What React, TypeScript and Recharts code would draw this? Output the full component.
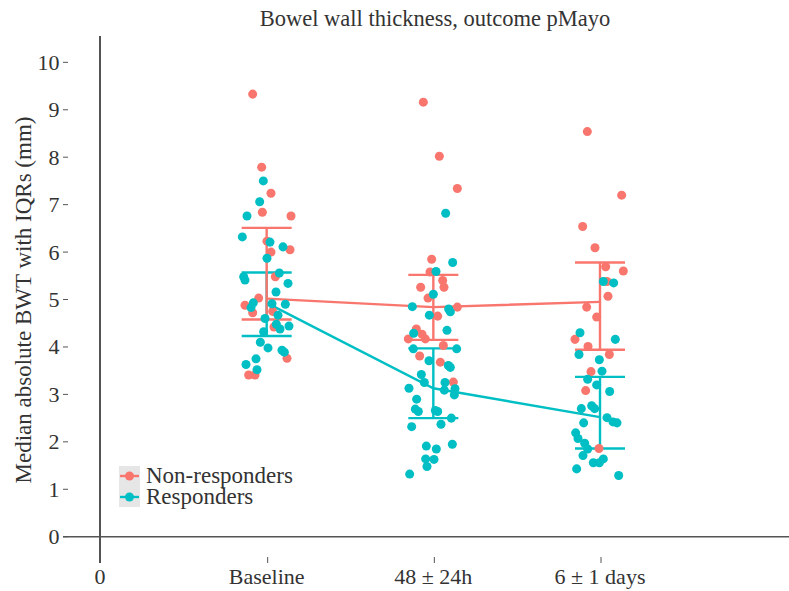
import React from "react";
import {
  ComposedChart,
  XAxis,
  YAxis,
  Line,
  Scatter,
  ErrorBar,
  ReferenceLine,
} from "recharts";

// Bowel wall thickness by outcome (pMayo) — medians with IQRs, jittered patients

const RED = "#F8766D";
const TEAL = "#00BFC4";
const FONT = '"Liberation Serif", "Times New Roman", serif';
const INK = "#333333";

const CATEGORIES = ["Baseline", "48 ± 24h", "6 ± 1 days"];
const CATEGORY_POS = [1, 2, 3];
const Y_TICKS = [0, 1, 2, 3, 4, 5, 6, 7, 8, 9, 10];

// medians and quartiles
const NR_MEDIAN = [5.02, 4.84, 4.95];
const NR_Q1 = [4.58, 4.15, 3.94];
const NR_Q3 = [6.51, 5.52, 5.78];
const R_MEDIAN = [4.93, 3.13, 2.52];
const R_Q1 = [4.23, 2.5, 1.86];
const R_Q3 = [5.57, 3.97, 3.37];

// individual patients [jittered x, BWT mm]
const NR_BASELINE: [number, number][] = [
  [0.916, 9.33], [0.97, 7.79], [1.026, 7.24], [0.974, 6.84], [1.146, 6.76],
  [1.002, 6.23], [1.026, 6.0], [1.14, 6.05], [1.052, 5.48], [0.952, 5.03],
  [0.87, 4.88], [0.916, 4.72], [1.036, 4.75], [1.044, 4.42], [1.122, 3.76],
  [0.892, 3.41], [0.93, 3.41],
];
const NR_48H: [number, number][] = [
  [1.94, 9.16], [2.036, 8.02], [2.144, 7.34], [1.99, 5.85], [1.98, 5.58],
  [2.056, 5.4], [2.064, 5.26], [1.924, 5.26], [1.968, 5.03], [2.144, 4.84],
  [2.026, 4.65], [1.898, 4.38], [1.932, 4.27], [1.952, 4.17], [1.85, 4.17],
  [2.06, 4.03], [1.918, 3.81], [2.042, 3.68], [2.12, 3.26],
];
const NR_6D: [number, number][] = [
  [2.924, 8.54], [3.13, 7.2], [2.896, 6.54], [2.97, 6.09], [3.034, 5.69],
  [3.14, 5.6], [3.042, 5.38], [3.048, 5.07], [2.92, 4.84], [2.98, 4.63],
  [2.85, 4.16], [2.928, 4.01], [3.056, 3.84], [2.946, 3.48], [2.914, 3.08],
  [2.994, 1.86],
];
const R_BASELINE: [number, number][] = [
  [0.98, 7.5], [0.958, 7.06], [0.882, 6.76], [0.854, 6.32], [1.02, 6.21],
  [1.098, 6.11], [1.002, 5.87], [0.862, 5.48], [0.87, 5.41], [1.076, 5.56],
  [1.128, 5.34], [1.056, 5.16], [0.92, 4.93], [0.906, 4.83], [1.032, 4.91],
  [1.112, 4.9], [1.068, 4.67], [0.99, 4.6], [1.058, 4.48], [1.08, 4.38],
  [1.134, 4.44], [0.982, 4.32], [0.962, 4.1], [1.008, 3.98], [1.092, 3.93],
  [1.106, 3.89], [0.936, 3.75], [0.876, 3.63], [0.942, 3.52],
];
const R_48H: [number, number][] = [
  [2.074, 6.82], [2.116, 5.78], [2.016, 5.59], [2.0, 5.11], [1.874, 4.85],
  [2.092, 4.8], [2.102, 4.74], [1.976, 4.67], [2.082, 4.35], [1.882, 4.29],
  [1.88, 3.96], [2.14, 3.96], [1.974, 3.71], [2.09, 3.61], [2.102, 3.57],
  [1.928, 3.42], [1.946, 3.25], [2.07, 3.25], [1.854, 3.13], [2.066, 3.09],
  [2.13, 3.12], [2.126, 2.99], [1.9, 2.9], [1.892, 2.69], [1.91, 2.64],
  [2.012, 2.66], [2.026, 2.64], [2.108, 2.5], [1.87, 2.32], [2.046, 2.37],
  [1.958, 1.91], [2.018, 1.85], [2.114, 1.95], [1.954, 1.64], [2.004, 1.63],
  [1.962, 1.48], [1.858, 1.32],
];
const R_6D: [number, number][] = [
  [3.02, 5.38], [3.082, 5.35], [2.88, 4.3], [3.092, 4.16], [2.874, 3.84],
  [2.996, 3.73], [3.012, 3.49], [2.926, 3.32], [2.98, 3.2], [3.058, 3.06],
  [2.888, 2.7], [2.95, 2.76], [2.968, 2.7], [2.902, 2.4], [3.042, 2.51],
  [3.078, 2.42], [3.102, 2.4], [2.854, 2.19], [2.868, 2.07], [2.908, 1.97],
  [2.926, 1.85], [2.898, 1.71], [2.96, 1.56], [2.996, 1.56], [3.02, 1.64],
  [2.86, 1.43], [3.112, 1.29],
];

const summary = (med: number[], q1: number[], q3: number[]) =>
  CATEGORY_POS.map((x, i) => ({ x, y: med[i], iqr: [med[i] - q1[i], q3[i] - med[i]] }));

const toPoints = (...groups: [number, number][][]) =>
  groups.flat().map(([x, y]) => ({ x, y }));

const nrSummary = summary(NR_MEDIAN, NR_Q1, NR_Q3);
const rSummary = summary(R_MEDIAN, R_Q1, R_Q3);
const nrPoints = toPoints(NR_BASELINE, NR_48H, NR_6D);
const rPoints = toPoints(R_BASELINE, R_48H, R_6D);

const XTick = ({ x, y, payload }: any) => {
  const v = payload.value;
  const label = v === 0 ? "0" : CATEGORIES[CATEGORY_POS.indexOf(v)];
  return (
    <g>
      {v !== 0 && <line x1={x + 1} x2={x + 1} y1={y - 6} y2={y} stroke="#555" strokeWidth={1} />}
      <text x={x} y={y + 21} textAnchor="middle" fill={INK} fontSize={22} fontFamily={FONT}>
        {label}
      </text>
    </g>
  );
};

const YTick = ({ y, payload }: any) => (
  <g>
    <text x={59.5} y={y + 7.5} textAnchor="end" fill={INK} fontSize={22} fontFamily={FONT}>
      {payload.value}
    </text>
    <line x1={63} x2={68} y1={y} y2={y} stroke="#555" strokeWidth={1} />
  </g>
);

export default function App() {
  return (
    <div style={{ position: "absolute", left: 0, top: 0, width: 789, height: 591, background: "#fff" }}>
      <ComposedChart width={789} height={591} margin={{ top: 36, right: 0, bottom: 0, left: 0 }}>
        <XAxis
          type="number"
          dataKey="x"
          domain={[-0.222, 4.134]}
          ticks={[0, 1, 2, 3]}
          allowDataOverflow
          height={28}
          axisLine={false}
          tickLine={false}
          tickSize={0}
          tickMargin={0}
          tick={<XTick />}
        />
        <YAxis
          type="number"
          dataKey="y"
          domain={[-0.554, 10.555]}
          ticks={Y_TICKS}
          allowDataOverflow
          width={63}
          axisLine={false}
          tickLine={false}
          tick={<YTick />}
        />
        <ReferenceLine x={0} stroke="#1a1a1a" strokeWidth={1.5} />
        <ReferenceLine y={0} stroke="#555" strokeWidth={1.5} />
        <Line
          data={rSummary}
          dataKey="y"
          type="linear"
          stroke={TEAL}
          strokeWidth={2.4}
          dot={false}
          isAnimationActive={false}
        >
          <ErrorBar dataKey="iqr" direction="y" width={25} stroke={TEAL} strokeWidth={2.4} isAnimationActive={false} />
        </Line>
        <Line
          data={nrSummary}
          dataKey="y"
          type="linear"
          stroke={RED}
          strokeWidth={2.4}
          dot={false}
          isAnimationActive={false}
        >
          <ErrorBar dataKey="iqr" direction="y" width={25} stroke={RED} strokeWidth={2.4} isAnimationActive={false} />
        </Line>
        <Scatter data={nrPoints} dataKey="y" fill={RED} isAnimationActive={false} />
        <Scatter data={rPoints} dataKey="y" fill={TEAL} isAnimationActive={false} />
      </ComposedChart>

      <svg
        width={789}
        height={591}
        style={{ position: "absolute", left: 0, top: 0, pointerEvents: "none" }}
        fontFamily={FONT}
      >
        <text x={435} y={26} textAnchor="middle" fill={INK} fontSize={22.5}>
          Bowel wall thickness, outcome pMayo
        </text>
        <text
          transform="translate(31,300) rotate(-90)"
          textAnchor="middle"
          fill={INK}
          fontSize={23}
        >
          Median absolute BWT with IQRs (mm)
        </text>
        {/* legend */}
        <rect x={119} y={466} width={21} height={41} fill="#e6e6e6" />
        {[
          { label: "Non-responders", color: RED, y: 476 },
          { label: "Responders", color: TEAL, y: 497 },
        ].map((d) => (
          <g key={d.label}>
            <line x1={120} x2={139} y1={d.y} y2={d.y} stroke={d.color} strokeWidth={2.4} />
            <circle cx={129.5} cy={d.y} r={4.5} fill={d.color} />
            <text x={146} y={d.y + 7} fill={INK} fontSize={23}>
              {d.label}
            </text>
          </g>
        ))}
      </svg>
    </div>
  );
}
